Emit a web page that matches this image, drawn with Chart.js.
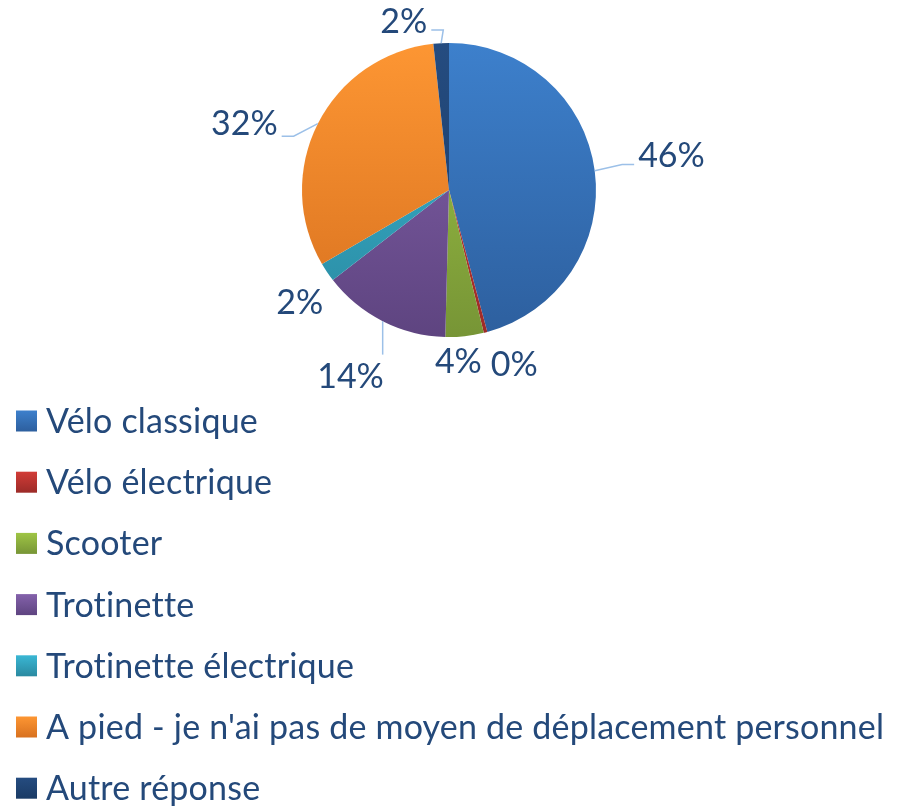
<!DOCTYPE html>
<html>
<head>
<meta charset="utf-8">
<script src="https://cdn.jsdelivr.net/npm/chart.js@4.4.1/dist/chart.umd.min.js"></script>
<style>
  html, body { margin: 0; padding: 0; background: #fff; }
  #wrap { width: 902px; height: 806px; }
</style>
</head>
<body>
<div id="wrap"><canvas id="pieChart" width="902" height="806"></canvas></div>
<script>
// données (en %)
const categories = ['Vélo classique', 'Vélo électrique', 'Scooter', 'Trotinette',
    'Trotinette électrique', "A pied - je n'ai pas de moyen de déplacement personnel", 'Autre réponse'];
const values = [45.8, 0.4, 4.2, 14.1, 2.1, 31.7, 1.7];

// couleurs dégradées (haut, bas)
const topColors = ['#3d80cc', '#d23c37', '#9fc545', '#8462ab', '#3ab7d4', '#fd9633', '#254c80'];
const bottomColors = ['#2d5f9e', '#9c2b28', '#779536', '#5e4480', '#2a89a0', '#d8711f', '#1a3b65'];

const textColor = '#24497a';
const leaderColor = '#9cc0e8';
const fontFamily = 'Lato, "Open Sans", sans-serif';
const fontSize = 34;

// placement des étiquettes : distance au-delà du rayon, décalage d'angle (degrés)
const labelDist = [78, 40, 25, 64, 40, 68, 27];
const labelShift = [-1, -6, 3, 1, -3, -9, -12];
const leaderType = ['h', '', '', 'v', '', 'h', 'h'];

function gradientFor(ctx, i) {
    const area = ctx.chart.chartArea;
    if (!area) return topColors[i];
    const g = ctx.chart.ctx.createLinearGradient(0, area.top, 0, area.bottom);
    g.addColorStop(0, topColors[i]);
    g.addColorStop(1, bottomColors[i]);
    return g;
}

const percentLabels = {
    id: 'percentLabels',
    afterDatasetsDraw(chart) {
        const ctx = chart.ctx;
        const total = values.reduce((a, b) => a + b, 0);
        const arcs = chart.getDatasetMeta(0).data;
        ctx.save();
        ctx.font = fontSize + 'px ' + fontFamily;
        ctx.textAlign = 'center';
        ctx.textBaseline = 'middle';
        arcs.forEach((arc, i) => {
            const p = arc.getProps(['x', 'y', 'startAngle', 'endAngle', 'outerRadius'], true);
            const mid = (p.startAngle + p.endAngle) / 2;
            const a = mid + labelShift[i] * Math.PI / 180;
            const d = p.outerRadius + labelDist[i];
            const lx = p.x + Math.cos(a) * d;
            const ly = p.y + Math.sin(a) * d;
            const txt = Math.round(values[i] / total * 100) + '%';
            const w = ctx.measureText(txt).width;

            if (leaderType[i]) {
                const ex = p.x + Math.cos(mid) * p.outerRadius;
                const ey = p.y + Math.sin(mid) * p.outerRadius;
                ctx.strokeStyle = leaderColor;
                ctx.lineWidth = 1.5;
                ctx.beginPath();
                ctx.moveTo(ex, ey);
                if (leaderType[i] === 'v') {
                    // étiquette au-dessous : trait vertical
                    ctx.lineTo(ex, ly + (ey > ly ? 22 : -22));
                } else {
                    const side = lx > ex ? -1 : 1;
                    const tx = lx + side * (w / 2 + 4);
                    const kx = tx + side * 12;
                    const sy = ly + (ey > ly ? 8 : 12);
                    if (Math.abs(ey - sy) > Math.abs(ex - kx)) {
                        // coude vertical (étiquette du haut)
                        ctx.lineTo(kx, sy);
                    } else {
                        ctx.lineTo(kx, sy);
                    }
                    ctx.lineTo(tx, sy);
                }
                ctx.stroke();
            }
            ctx.fillStyle = textColor;
            ctx.fillText(txt, lx, ly);
        });
        ctx.restore();
    }
};

const listLegend = {
    id: 'listLegend',
    afterDraw(chart) {
        const ctx = chart.ctx;
        const x0 = 16, y0 = 421, step = 61.2, box = 21;
        ctx.save();
        ctx.font = fontSize + 'px ' + fontFamily;
        ctx.letterSpacing = '0.2px';
        ctx.textBaseline = 'middle';
        categories.forEach((name, i) => {
            const y = y0 + i * step;
            const g = ctx.createLinearGradient(0, y - box / 2, 0, y + box / 2);
            g.addColorStop(0, topColors[i]);
            g.addColorStop(1, bottomColors[i]);
            ctx.fillStyle = g;
            ctx.fillRect(x0, y - box / 2, box, box);
            ctx.fillStyle = textColor;
            ctx.fillText(name, x0 + 30, y + 1);
        });
        ctx.restore();
    }
};

new Chart(document.getElementById('pieChart').getContext('2d'), {
    type: 'pie',
    data: {
        labels: categories,
        datasets: [{
            data: values,
            backgroundColor: (ctx) => gradientFor(ctx, ctx.dataIndex),
            borderWidth: 0
        }]
    },
    options: {
        responsive: false,
        animation: false,
        layout: { padding: { top: 43, bottom: 469, left: 0, right: 4 } },
        plugins: {
            legend: { display: false },
            tooltip: { enabled: false }
        }
    },
    plugins: [percentLabels, listLegend]
});
</script>
</body>
</html>
